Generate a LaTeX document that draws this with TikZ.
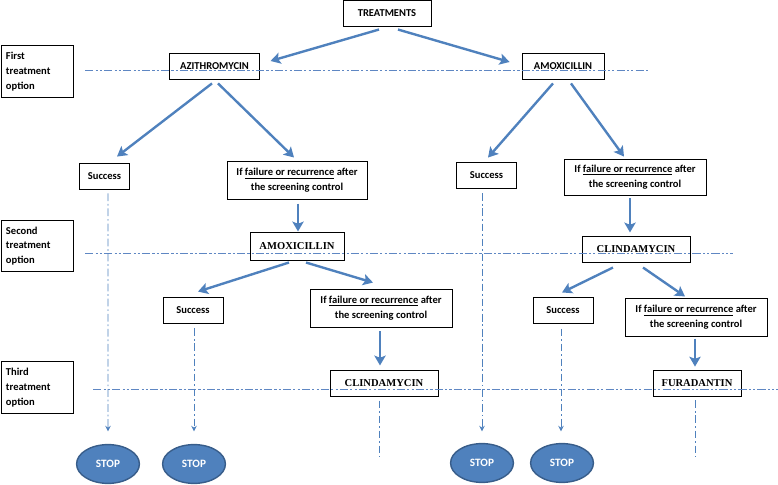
\documentclass[tikz,border=0pt]{standalone}
\usepackage{fontspec}
\setmainfont{Carlito}
\newfontfamily\timesfont{Liberation Serif}
\usepackage{xcolor}
\usepackage{tikz}
\usetikzlibrary{arrows.meta,calc,shapes.geometric}
\definecolor{arrblue}{RGB}{79,129,189}
\definecolor{stopedge}{RGB}{56,93,138}
\definecolor{ruleblue}{RGB}{95,135,195}
\tikzset{
  box/.style={draw,line width=0.6pt,inner sep=0pt,font=\fontsize{7.5}{10.5}\selectfont\bfseries,align=center},
  optbox/.style={box,minimum width=1.8cm,minimum height=1.28cm,text width=1.55cm,align=left},
  drugbox/.style={box,font=\fontsize{7.5}{10.5}\selectfont\timesfont\bfseries},
  stopnode/.style={ellipse,draw=stopedge,line width=1pt,fill=arrblue,text=white,inner sep=0pt,
    minimum width=1.57cm,minimum height=0.97cm,font=\fontsize{8}{9}\selectfont\bfseries},
  arr/.style={draw=arrblue,line width=1.7pt,-{Stealth[length=7pt,width=8pt,inset=1.5pt]}},
  dotarr/.style={draw=arrblue,line width=0.7pt,dash pattern=on 5.5pt off 2pt on 1.2pt off 2pt,
    -{Stealth[length=4pt,width=4pt]}},
  dotline/.style={draw=arrblue,line width=0.7pt,dash pattern=on 5.5pt off 2pt on 1.2pt off 2pt},
  rule/.style={draw=ruleblue,line width=0.6pt,dash pattern=on 6pt off 1.5pt on 1.5pt off 1.5pt on 1.5pt off 1.5pt}
}
\begin{document}
\begin{tikzpicture}[x=0.025cm,y=-0.025cm]
      \useasboundingbox (0,0) rectangle (778,485);
      \node[box,minimum width=2.2cm,minimum height=0.63cm] (treat) at (387,13.5) {TREATMENTS};
      \node[optbox] (opt1) at (37,71.5) {First\\treatment\\option};
      \node[optbox] (opt2) at (37,246) {Second\\treatment\\option};
      \node[optbox] (opt3) at (37,387.5) {Third\\treatment\\option};
      \node[box,minimum width=2.23cm,minimum height=0.65cm] (azi) at (214.5,66) {AZITHROMYCIN};
      \node[box,minimum width=2.05cm,minimum height=0.65cm] (amox1) at (563,66) {AMOXICILLIN};
      \node[box,minimum width=1.23cm,minimum height=0.65cm] (succ1) at (104.5,176) {Success};
      \node[box,minimum width=3.5cm,minimum height=0.93cm] (fail1) at (297,180.5) {If \underline{failure or recurrence} after\\the screening control};
      \node[box,minimum width=1.48cm,minimum height=0.65cm] (succ2) at (486.5,175) {Success};
      \node[box,minimum width=3.55cm,minimum height=0.9cm] (fail2) at (635,177) {If \underline{failure or recurrence} after\\the screening control};
      \node[drugbox,minimum width=2.35cm,minimum height=0.68cm] (amox2) at (297,246.5) {AMOXICILLIN};
      \node[drugbox,minimum width=2.7cm,minimum height=0.63cm] (clin2) at (636,249.5) {CLINDAMYCIN};
      \node[box,minimum width=1.5cm,minimum height=0.65cm] (succ3) at (193,310) {Success};
      \node[box,minimum width=3.55cm,minimum height=0.95cm] (fail3) at (381,308) {If \underline{failure or recurrence} after\\the screening control};
      \node[box,minimum width=1.5cm,minimum height=0.63cm] (succ4) at (563,310.5) {Success};
      \node[box,minimum width=3.55cm,minimum height=0.93cm] (fail4) at (696,317.5) {If \underline{failure or recurrence} after\\the screening control};
      \node[drugbox,minimum width=2.7cm,minimum height=0.63cm] (clin3) at (384,383.5) {CLINDAMYCIN};
      \node[drugbox,minimum width=2.2cm,minimum height=0.65cm] (fura) at (697,383) {FURADANTIN};
      \node[stopnode] (stop1) at (108,464) {STOP};
      \node[stopnode] (stop2) at (194,464) {STOP};
      \node[stopnode] (stop3) at (482,463) {STOP};
      \node[stopnode] (stop4) at (562,463) {STOP};
      \coordinate (clinend) at (379,457);
      \coordinate (furaend) at (695,457);
      \draw[rule] (85,70) -- (648,70);
      \draw[rule] (85,253) -- (733,253);
      \draw[rule] (93,389) -- (778,389);
      \draw[arr] ($(treat.south)+(-8,3)$) -- ($(azi.east)+(11,-5)$);
      \draw[arr] ($(treat.south)+(11,3)$) -- ($(amox1.west)+(-12,-4)$);
      \draw[arr] ($(azi.south)+(-2.5,4)$) -- ($(succ1.north)+(12.5,-6)$);
      \draw[arr] ($(azi.south)+(3.5,4)$) -- ($(fail1.north)+(-3,-4)$);
      \draw[arr] ($(amox1.south)+(-10,4)$) -- ($(succ2.north)+(1.5,-4)$);
      \draw[arr] ($(amox1.south)+(8,4)$) -- ($(fail2.north)+(-11,-2)$);
      \draw[arr] ($(fail1.south)+(1,4)$) -- ($(amox2.north)+(1,-1)$);
      \draw[arr] ($(fail2.south)+(-5,3)$) -- ($(clin2.north)+(-6,-4)$);
      \draw[arr] ($(amox2.south)+(-8,2)$) -- ($(succ3.north)+(5,-5)$);
      \draw[arr] ($(amox2.south)+(9,2)$) -- ($(fail3.north)+(-8,-6)$);
      \draw[arr] ($(clin2.south)+(-23,5)$) -- ($(succ4.north)+(-1,-5)$);
      \draw[arr] ($(clin2.south)+(7,5)$) -- ($(fail4.north)+(-11,-2)$);
      \draw[arr] ($(fail3.south)+(-1,4)$) -- ($(clin3.north)+(-4,-5)$);
      \draw[arr] ($(fail4.south)+(-1,2)$) -- ($(fura.north)+(-2,-3)$);
      \draw[dotarr] ($(succ1.south)+(3.5,4)$) -- ($(stop1.north)+(0,-12.5)$);
      \draw[dotarr] ($(succ2.south)+(-4.5,5)$) -- ($(stop3.north)+(0,-11.5)$);
      \draw[dotarr] ($(succ3.south)+(1,5)$) -- ($(stop2.north)+(0,-12.5)$);
      \draw[dotarr] ($(succ4.south)+(-2,5)$) -- ($(stop4.north)+(-1,-11.5)$);
      \draw[dotline] ($(clin3.south)+(-5,4)$) -- (clinend);
      \draw[dotline] ($(fura.south)+(-2,4)$) -- (furaend);
\end{tikzpicture}
\end{document}
